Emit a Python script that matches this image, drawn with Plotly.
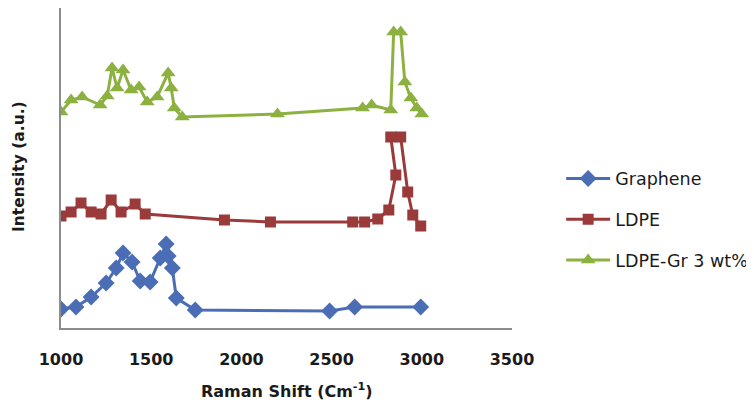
import plotly.graph_objects as go

# Raman shift (cm^-1) and intensity (a.u., arbitrary offset units)
graphene_x = [1000, 1083, 1167, 1250, 1306, 1344, 1394, 1439, 1494, 1550, 1583, 1594, 1617, 1639, 1744, 2489, 2628, 2994]
graphene_y = [19, 21, 31, 45, 60, 75, 66, 47, 46, 70, 84, 72, 60, 30, 18, 17, 21, 21]

ldpe_x = [1000, 1056, 1111, 1167, 1222, 1278, 1333, 1411, 1467, 1906, 2161, 2617, 2683, 2756, 2817, 2856, 2828, 2883, 2922, 2950, 2994]
ldpe_y = [112, 116, 125, 116, 114, 128, 116, 124, 114, 108, 106, 106, 106, 109, 118, 153, 191, 191, 136, 113, 102]

ldpegr_x = [1000, 1056, 1117, 1217, 1256, 1283, 1311, 1344, 1389, 1433, 1478, 1533, 1594, 1611, 1628, 1672, 2200, 2672, 2722, 2828, 2844, 2883, 2906, 2939, 2972, 3000]
ldpegr_y = [216, 228, 231, 223, 232, 260, 240, 258, 238, 241, 226, 231, 255, 240, 220, 211, 214, 220, 223, 218, 296, 296, 246, 230, 220, 214]

x_ticks = [1000, 1500, 2000, 2500, 3000, 3500]

series = [
    ("Graphene", graphene_x, graphene_y, "#4A6DB5", "diamond", 13),
    ("LDPE", ldpe_x, ldpe_y, "#9B3A3A", "square", 11),
    ("LDPE-Gr 3 wt%", ldpegr_x, ldpegr_y, "#8DB140", "triangle-up", 13),
]

fig = go.Figure()
for i, (name, xs, ys, col, sym, sz) in enumerate(series):
    fig.add_trace(go.Scatter(
        x=xs, y=ys, name=name, mode="lines+markers",
        line=dict(color=col, width=3),
        marker=dict(color=col, symbol=sym, size=sz, line=dict(width=0)),
        legendgroup="g%d" % i,
    ))

PH = 320.0
PW = 451.0
fig.update_layout(
    width=746, height=396,
    margin=dict(l=53, r=242, t=0, b=76),
    paper_bgcolor="white", plot_bgcolor="white",
    font=dict(family="DejaVu Sans", color="#1a1a1a"),
    showlegend=True,
    legend=dict(
        x=1.109, y=0.523, xanchor="left", yanchor="top",
        font=dict(family="DejaVu Sans", size=17.5, color="#1a1a1a"),
        tracegroupgap=15, itemwidth=44, bgcolor="rgba(0,0,0,0)",
    ),
    xaxis=dict(
        range=[1000, 3500], tickvals=x_ticks, ticktext=[str(v) for v in x_ticks],
        showline=True, linecolor="#8c8c8c", linewidth=1.5, showgrid=False,
        zeroline=False, ticks="", ticklabelstandoff=16,
        tickfont=dict(family="DejaVu Sans", size=16, color="#1a1a1a", weight="bold"),
    ),
    yaxis=dict(
        range=[0, 320], showline=True, linecolor="#8c8c8c", linewidth=1.5,
        showgrid=False, zeroline=False, showticklabels=False, ticks="",
    ),
    annotations=[
        dict(text="<b>Raman Shift (Cm<sup>-1</sup>)</b>", xref="paper", yref="paper",
             x=(287 - 61) / PW, y=-(390 - 328) / PH, xanchor="center", yanchor="middle",
             showarrow=False, font=dict(family="DejaVu Sans", size=16, color="#1a1a1a")),
        dict(text="<b>Intensity (a.u.)</b>", xref="paper", yref="paper",
             x=-(53 - 11) / PW, y=(328 - 167) / PH, xanchor="center", yanchor="middle",
             textangle=-90, showarrow=False,
             font=dict(family="DejaVu Sans", size=15.5, color="#1a1a1a")),
    ],
)

fig.write_html("out.html")
